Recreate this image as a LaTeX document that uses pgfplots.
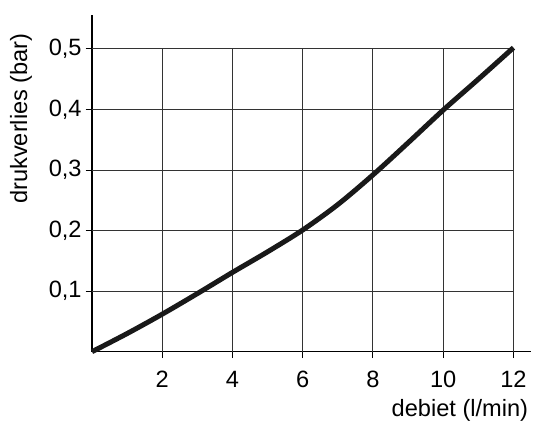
\documentclass[border=0pt]{standalone}
\usepackage{fontspec}
\setmainfont{Liberation Sans}
\usepackage{pgfplots}
\pgfplotsset{compat=1.18}

\begin{document}
\fontsize{11.8}{14}\selectfont
\begin{tikzpicture}
  \begin{axis}[
      scale only axis,
      width=219.5pt, height=168.35pt,
      xmin=0, xmax=12.5,
      ymin=0, ymax=0.556,
      axis lines=left,
      axis line style={-, line width=0.65pt},
      clip=false,
      xtick={2,4,6,8,10,12},
      ytick={0.1,0.2,0.3,0.4,0.5},
      tick align=outside,
      major tick length=3.2pt,
      tick style={black, line width=0.5pt},
      /pgf/number format/.cd, use comma, fixed, assume math mode=true,
      /pgfplots/.cd,
      yticklabel style={/pgf/number format/precision=1, /pgf/number format/fixed zerofill,
        anchor=east, inner sep=0pt, xshift=-1.8pt},
      xticklabel style={anchor=north, inner sep=0pt, yshift=-6.5pt},
      xlabel={debiet (l/min)},
      ylabel={drukverlies (bar)},
      xlabel style={at={(rel axis cs:0.838,-0.173)}, anchor=center, inner sep=0pt},
      ylabel style={at={(rel axis cs:-0.1617,0.6926)}, anchor=center, rotate=0, inner sep=0pt},
    ]
    % grid limited to 0..12 x 0..0.5
    \draw[black!80, line width=0.5pt]
      (axis cs:2,0) -- (axis cs:2,0.5)
      (axis cs:4,0) -- (axis cs:4,0.5)
      (axis cs:6,0) -- (axis cs:6,0.5)
      (axis cs:8,0) -- (axis cs:8,0.5)
      (axis cs:10,0) -- (axis cs:10,0.5)
      (axis cs:12,0) -- (axis cs:12,0.5)
      (axis cs:0,0.1) -- (axis cs:12,0.1)
      (axis cs:0,0.2) -- (axis cs:12,0.2)
      (axis cs:0,0.3) -- (axis cs:12,0.3)
      (axis cs:0,0.4) -- (axis cs:12,0.4)
      (axis cs:0,0.5) -- (axis cs:12,0.5);
    \addplot[black!90, line width=2.5pt, smooth, no markers] coordinates {
      (0,0) (1,0.030) (2,0.062) (3,0.096) (4,0.131) (5,0.165) (6,0.201)
      (7,0.243) (8,0.292) (9,0.345) (10,0.399) (11,0.450) (12,0.502)
    };
    % page extent
    \path (rel axis cs:-0.2096,-0.2058) rectangle (rel axis cs:1.0068,1.0445);
  \end{axis}
\end{tikzpicture}
\end{document}
